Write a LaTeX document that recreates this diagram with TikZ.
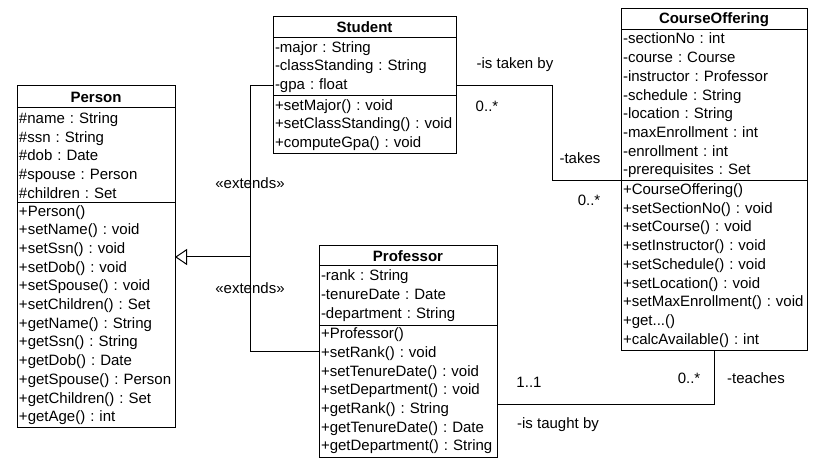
\documentclass[tikz,border=0pt]{standalone}
\usepackage{fontspec}
\setmainfont{Liberation Sans}
\usetikzlibrary{positioning,arrows.meta}

\begin{document}
\frenchspacing
\hyphenpenalty=10000
\begin{tikzpicture}[x=1pt,y=-1pt,
        every node/.style={font=\fontsize{15}{18.7}\selectfont},
        ttl/.style={draw,line width=1pt,outer sep=0pt,inner sep=0pt,anchor=north west,
            font=\fontsize{15}{18.7}\selectfont\bfseries},
        part/.style={draw,line width=1pt,outer sep=0pt,inner xsep=2pt,inner ysep=1pt,align=left},
        lbl/.style={inner sep=0pt},
        extends/.style={line width=1pt,-{Triangle[open,length=12pt,width=16pt]}}]
        \useasboundingbox (0,0) rectangle (827,470);

        \node[ttl,minimum width=158pt,minimum height=22pt] (person) at (17,86) {Person};
        \node[part,below=0pt of person,text width=154pt,minimum height=95pt] (person-a)
            {\#name : String\\\#ssn : String\\\#dob : Date\\\#spouse : Person\\\#children : Set};
        \node[part,below=0pt of person-a,text width=154pt,minimum height=224pt] (person-m)
            {+Person()\\+setName() : void\\+setSsn() : void\\+setDob() : void\\+setSpouse() : void\\
             +setChildren() : Set\\+getName() : String\\+getSsn() : String\\+getDob() : Date\\
             +getSpouse() : Person\\+getChildren() : Set\\+getAge() : int};

        \node[ttl,minimum width=183pt,minimum height=21pt] (student) at (273,17) {Student};
        \node[part,below=0pt of student,text width=179pt,minimum height=58pt] (student-a)
            {-major : String\\-classStanding : String\\-gpa : float};
        \node[part,below=0pt of student-a,text width=179pt,minimum height=58pt] (student-m)
            {+setMajor() : void\\+setClassStanding() : void\\+computeGpa() : void};

        \node[ttl,minimum width=178pt,minimum height=20pt] (prof) at (319,246) {Professor};
        \node[part,below=0pt of prof,text width=174pt,minimum height=59pt] (prof-a)
            {-rank : String\\-tenureDate : Date\\-department : String};
        \node[part,below=0pt of prof-a,text width=174pt,minimum height=132pt] (prof-m)
            {+Professor()\\+setRank() : void\\+setTenureDate() : void\\+setDepartment() : void\\
             +getRank() : String\\+getTenureDate() : Date\\+getDepartment() : String};

        \node[ttl,minimum width=186pt,minimum height=21pt] (co) at (621,9) {CourseOffering};
        \node[part,below=0pt of co,text width=182pt,minimum height=151pt] (co-a)
            {-sectionNo : int\\-course : Course\\-instructor : Professor\\-schedule : String\\
             -location : String\\-maxEnrollment : int\\-enrollment : int\\-prerequisites : Set};
        \node[part,below=0pt of co-a,text width=182pt,minimum height=169pt] (co-m)
            {+CourseOffering()\\+setSectionNo() : void\\+setCourse() : void\\+setInstructor() : void\\
             +setSchedule() : void\\+setLocation() : void\\+setMaxEnrollment() : void\\
             +get...()\\+calcAvailable() : int};

        % generalization
        \coordinate (gen) at (250,257);
        \draw[line width=1pt] ([yshift=10pt]student-a.south west) -| (gen);
        \draw[line width=1pt] ([yshift=-26pt]prof-m.north west) -| (gen);
        \draw[extends] (gen) -- (gen -| person-m.east);
        \node[lbl] (ext-stu) at (250,183) {«extends»};
        \node[lbl] (ext-prof) at (250,288) {«extends»};

        % associations
        \draw[line width=1pt] ([yshift=10pt]student-a.south east) -- ++(96,0) |- (co-a.south west);
        \draw[line width=1pt] ([yshift=53pt]prof-m.south east) -| (co-m.south);
        \node[lbl] (takenby) at (515,65) {-is taken by};
        \node[lbl] (mult-stu) at (487,106) {0..*};
        \node[lbl] (takes) at (580,158) {-takes};
        \node[lbl] (mult-co) at (589,200) {0..*};
        \node[lbl] (mult-prof) at (529,382) {1..1};
        \node[lbl] (mult-teach) at (689,378) {0..*};
        \node[lbl] (teaches) at (756,378) {-teaches};
        \node[lbl] (taughtby) at (558,425) {-is taught by};
\end{tikzpicture}
\end{document}
